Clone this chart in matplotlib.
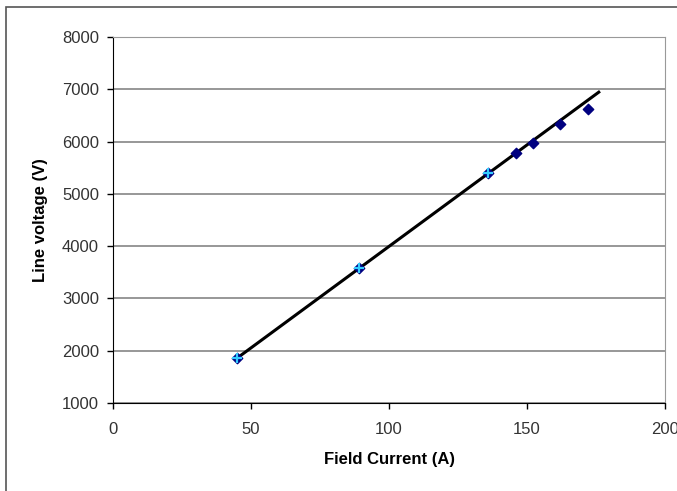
import matplotlib.pyplot as plt
from matplotlib.patches import Rectangle

# measured points
current = [45, 89, 136, 146, 152, 162, 172]
voltage = [1860, 3580, 5395, 5780, 5975, 6335, 6615]
# points marked with the second series
current_fit = [45, 89, 136]
voltage_fit = [1860, 3580, 5395]
# trend line end points
line_x = [45, 176]
line_y = [1860, 6945]

plt.rcParams['font.family'] = ['Liberation Sans', 'DejaVu Sans']

fig = plt.figure(figsize=(6.77, 4.91), dpi=100)
ax = fig.add_axes([113 / 677, 1 - 403 / 491, 552 / 677, 366 / 491])

# outer chart border
fig.patches.append(Rectangle((6 / 677, -0.05), 1.1, 1 - 7 / 491 + 0.05,
                             transform=fig.transFigure, fill=False,
                             edgecolor='#555555', linewidth=1.2))

ax.set_xlim(0, 200)
ax.set_ylim(1000, 8000)
ax.set_xticks([0, 50, 100, 150, 200])
ax.set_yticks(range(1000, 8001, 1000))
ax.grid(axis='y', color='#7a7a7a', linewidth=1.1)
ax.set_axisbelow(True)

ax.plot(line_x, line_y, color='black', linewidth=2.2, zorder=3)
ax.scatter(current, voltage, marker='D', s=28, color='#000080', zorder=4)
ax.scatter(current_fit, voltage_fit, marker='+', s=45, color='#33ccff',
           linewidths=1.6, zorder=5)

for s in ['top', 'right']:
    ax.spines[s].set_color('#999999')
for s in ['left', 'bottom']:
    ax.spines[s].set_color('black')
ax.tick_params(length=4.5, width=1, color='black', labelsize=12,
               labelcolor='#333333')
ax.tick_params(axis='x', pad=9)
ax.tick_params(axis='y', pad=5.5)

ax.set_xlabel('Field Current (A)', fontsize=12, fontweight='bold', labelpad=11)
ax.set_ylabel('Line voltage (V)', fontsize=12, fontweight='bold', labelpad=10)

fig.savefig('out.png', dpi=100)
